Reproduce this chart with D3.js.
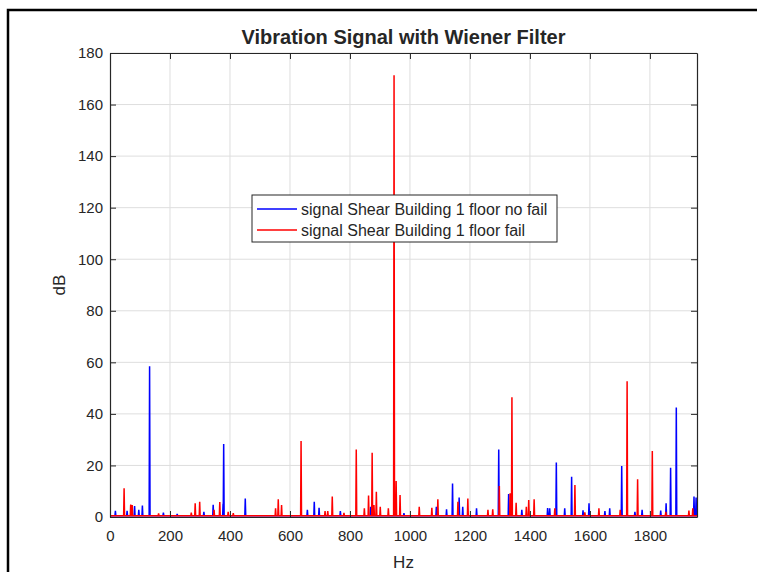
<!DOCTYPE html>
<html>
<head>
<meta charset="utf-8">
<script src="https://cdn.jsdelivr.net/npm/d3@7"></script>
<style>
  body { margin: 0; background: #fff; overflow: hidden; }
  svg { display: block; }
  svg text { font-family: "Liberation Sans", Arial, Helvetica, sans-serif; fill: #262626; }
</style>
</head>
<body>
<div id="chart"></div>
<script>
var svgWidth = 757
var svgHeight = 572

// spectrum peaks: [Hz, dB]
var bluePeaks = [
  [18, 2.4], [57, 2.4], [82, 4.3], [96, 2.8], [108, 4.4], [132, 58.5], [178, 1.7], [224, 1.2],
  [313, 2.0], [344, 4.7], [377, 5.1], [379, 28.3], [451, 7.2], [658, 2.8], [681, 5.9], [697, 3.6],
  [768, 2.3], [869, 4.0], [980, 1.5], [1088, 4.0], [1122, 3.0], [1142, 13.0], [1164, 7.6],
  [1176, 4.0], [1222, 3.4], [1296, 26.2], [1329, 8.9], [1373, 2.8], [1459, 3.5], [1466, 3.4],
  [1488, 21.1], [1516, 3.4], [1539, 15.6], [1577, 2.6], [1597, 5.3], [1650, 2.3], [1666, 3.4],
  [1706, 19.8], [1750, 2.0], [1774, 2.8], [1836, 2.5], [1854, 5.3], [1869, 19.1], [1888, 42.5],
  [1947, 7.9], [1954, 7.6]
]
var redPeaks = [
  [47, 11.1], [69, 4.8], [74, 4.6], [162, 1.4], [271, 1.7], [284, 5.3], [299, 5.9], [347, 2.8],
  [366, 5.8], [394, 2.0], [411, 1.5], [552, 3.4], [561, 6.9], [572, 4.6], [637, 29.5], [717, 2.3],
  [726, 2.3], [741, 7.9], [780, 1.6], [821, 26.2], [848, 3.4], [862, 8.3], [874, 24.9], [880, 4.6],
  [888, 9.8], [901, 4.0], [928, 3.4], [947, 171.4], [954, 14.0], [967, 8.5], [1031, 4.0],
  [1073, 3.6], [1093, 6.9], [1160, 5.9], [1193, 7.2], [1260, 2.8], [1276, 3.0], [1298, 12.0],
  [1334, 9.2], [1340, 46.5], [1354, 5.5], [1388, 4.0], [1396, 6.6], [1414, 6.9], [1483, 3.4],
  [1550, 12.4], [1583, 1.8], [1630, 3.4], [1701, 2.8], [1724, 52.7], [1759, 14.6], [1808, 25.6],
  [1853, 2.0], [1930, 2.5], [1943, 3.4]
]
var noiseFloor = 0.5
var xTicks = [0, 200, 400, 600, 800, 1000, 1200, 1400, 1600, 1800]
var yTicks = [0, 20, 40, 60, 80, 100, 120, 140, 160, 180]
var seriesNames = ["signal Shear Building 1 floor no fail", "signal Shear Building 1 floor fail"]
var seriesColors = ["#0000ff", "#ff0000"]

var margin = { top: 53, right: 60, left: 110, bottom: 55 }
var chartWidth = 697 - margin.left
var chartHeight = 517 - margin.top

var svg = d3.select("#chart").append("svg").attr("width", svgWidth).attr("height", svgHeight)

// figure frame: only the left and top edges are inside the window
svg.append("path").attr("d", `M8,${svgHeight} V10 H${svgWidth}`)
    .attr("fill", "none").attr("stroke", "#000").attr("stroke-width", 2.5)

var chartGroup = svg.append("g").attr("transform", `translate(${margin.left}, ${margin.top})`)

var xScale = d3.scaleLinear().domain([0, 1957]).range([0, chartWidth])
var yScale = d3.scaleLinear().domain([0, 180]).range([chartHeight, 0])

// grid
chartGroup.append("g").selectAll("line").data(xTicks.slice(1)).enter().append("line")
    .attr("x1", d => xScale(d)).attr("x2", d => xScale(d))
    .attr("y1", 0).attr("y2", chartHeight)
    .attr("stroke", "#dedede").attr("stroke-width", 1)
chartGroup.append("g").selectAll("line").data(yTicks.slice(1)).enter().append("line")
    .attr("y1", d => yScale(d)).attr("y2", d => yScale(d))
    .attr("x1", 0).attr("x2", chartWidth)
    .attr("stroke", "#dedede").attr("stroke-width", 1)

// turn peak lists into a spectrum trace
function trace(peaks) {
    var pts = [[0, noiseFloor]]
    peaks.forEach(p => {
        pts.push([p[0] - 1.5, noiseFloor], [p[0], p[1]], [p[0] + 1.5, noiseFloor])
    })
    pts.push([1957, noiseFloor])
    return pts
}
var line = d3.line().x(d => xScale(d[0])).y(d => yScale(d[1]))

chartGroup.append("path").datum(trace(bluePeaks)).attr("d", line)
    .attr("fill", "none").attr("stroke", seriesColors[0]).attr("stroke-width", 1.5)
chartGroup.append("path").datum(trace(redPeaks)).attr("d", line)
    .attr("fill", "none").attr("stroke", seriesColors[1]).attr("stroke-width", 1.5)

// axes (ticks inside, box on)
var tickLen = 6
var bottomAxis = d3.axisBottom(xScale).tickValues(xTicks).tickFormat(d3.format("d"))
    .tickSizeInner(-tickLen).tickSizeOuter(0).tickPadding(13)
var leftAxis = d3.axisLeft(yScale).tickValues(yTicks)
    .tickSizeInner(-tickLen).tickSizeOuter(0).tickPadding(7)
var topAxis = d3.axisTop(xScale).tickValues(xTicks).tickSizeInner(-tickLen).tickSizeOuter(0).tickFormat("")
var rightAxis = d3.axisRight(yScale).tickValues(yTicks).tickSizeInner(-tickLen).tickSizeOuter(0).tickFormat("")

var gx = chartGroup.append("g").attr("transform", `translate(0, ${chartHeight})`).call(bottomAxis)
var gy = chartGroup.append("g").call(leftAxis)
var gt = chartGroup.append("g").call(topAxis)
var gr = chartGroup.append("g").attr("transform", `translate(${chartWidth}, 0)`).call(rightAxis)
;[gx, gy, gt, gr].forEach(g => {
    g.select(".domain").attr("stroke", "#262626").attr("stroke-width", 1.2)
    g.selectAll(".tick line").attr("stroke", "#262626")
    g.selectAll("text").attr("font-size", "15px").attr("fill", "#404040")
})

// title and axis labels
svg.append("text").attr("x", margin.left + chartWidth / 2).attr("y", 44)
    .attr("text-anchor", "middle").attr("font-size", "20px").attr("font-weight", "bold")
    .attr("fill", "#000").text("Vibration Signal with Wiener Filter")
svg.append("text").attr("x", margin.left + chartWidth / 2).attr("y", 568)
    .attr("text-anchor", "middle").attr("font-size", "17px").attr("fill", "#404040").text("Hz")
svg.append("text").attr("transform", `translate(65, ${margin.top + chartHeight / 2}) rotate(-90)`)
    .attr("text-anchor", "middle").attr("font-size", "17px").attr("fill", "#404040").text("dB")

// legend
var legend = svg.append("g").attr("transform", "translate(252, 195)")
legend.append("rect").attr("width", 305).attr("height", 47)
    .attr("fill", "#fff").attr("stroke", "#262626").attr("stroke-width", 1)
seriesNames.forEach((name, i) => {
    var y = 14 + i * 21
    legend.append("line").attr("x1", 5).attr("x2", 45).attr("y1", y).attr("y2", y)
        .attr("stroke", seriesColors[i]).attr("stroke-width", 1.3)
    legend.append("text").attr("x", 49).attr("y", y + 5.5).attr("font-size", "16px")
        .attr("fill", "#000").text(name)
})
</script>
</body>
</html>
